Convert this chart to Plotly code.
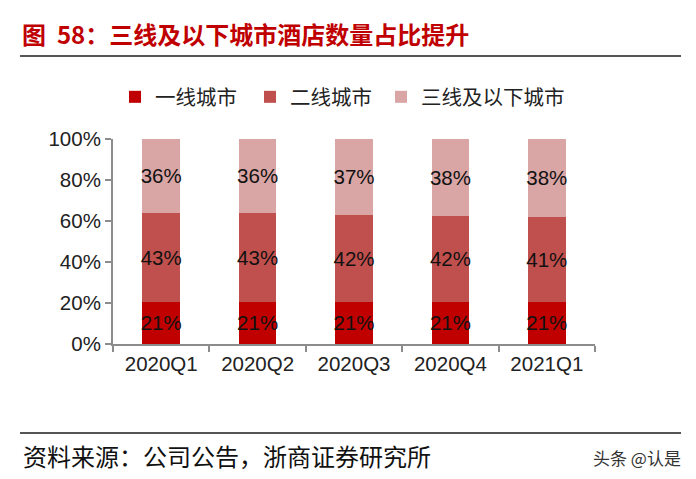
import plotly.graph_objects as go

categories = ["2020Q1", "2020Q2", "2020Q3", "2020Q4", "2021Q1"]
tier1 = [20.6, 20.6, 20.6, 20.6, 20.6]
tier2 = [43.4, 43.4, 42.4, 41.8, 41.4]
tier3 = [36.0, 36.0, 37.0, 37.6, 38.0]
series_names = ["一线城市", "二线城市", "三线及以下城市"]
colors = ["#C00000", "#C0504D", "#D9A5A5"]

L, R, T, B = 113, 101, 139, 135
W, H = 696, 479
PW, PH = W - L - R, H - T - B

def px(x):
    return (x - L) / PW

def py(y):
    return (H - B - y) / PH

legend_ids = ["legend", "legend2", "legend3"]
legend_left = [115, 250, 381]

fig = go.Figure()
for name, vals, col, lid in zip(series_names, [tier1, tier2, tier3], colors, legend_ids):
    fig.add_trace(go.Bar(
        x=categories, y=vals, name=name, marker=dict(color=col, line=dict(width=0)),
        texttemplate="%{y:.0f}%", textposition="inside", textangle=0,
        insidetextanchor="middle", constraintext="none",
        textfont=dict(family="Arial, Liberation Sans", size=20.5, color="#111"),
        width=0.39, legend=lid,
    ))

legend_style = dict(orientation="h", xanchor="left", y=py(97), yanchor="middle",
                    font=dict(family="Noto Sans CJK SC", size=20.5, color="#222"),
                    bgcolor="rgba(0,0,0,0)")
layout_legends = {lid: dict(legend_style, x=px(xl)) for lid, xl in zip(legend_ids, legend_left)}

fig.update_layout(
    barmode="stack",
    width=W, height=H,
    margin=dict(l=L, r=R, t=T, b=B),
    paper_bgcolor="white", plot_bgcolor="white",
    showlegend=True,
    uniformtext=dict(mode=False),
    font=dict(family="Arial, Liberation Sans"),
    **layout_legends,
)
fig.update_xaxes(
    showline=True, linecolor="#8c8c8c", linewidth=2,
    ticks="outside", tickson="boundaries", ticklen=6, tickcolor="#8c8c8c", tickwidth=2,
    tickfont=dict(family="Arial, Liberation Sans", size=20.5, color="#222"),
    showgrid=False,
)
fig.update_yaxes(
    range=[0, 100], showline=True, linecolor="#8c8c8c", linewidth=2,
    ticks="outside", ticklen=6, tickcolor="#8c8c8c", tickwidth=2,
    tickvals=[0, 20, 40, 60, 80, 100], ticktext=["0%", "20%", "40%", "60%", "80%", "100%"],
    tickfont=dict(family="Arial, Liberation Sans", size=20.5, color="#222"),
    showgrid=False, zeroline=False,
)

fig.add_shape(type="line", xref="paper", yref="paper", x0=px(20), x1=px(681), y0=py(56), y1=py(56),
              line=dict(color="#555", width=2))
fig.add_shape(type="line", xref="paper", yref="paper", x0=px(20), x1=px(681), y0=py(433), y1=py(433),
              line=dict(color="#555", width=2))

fig.add_annotation(text="<b>图  58：三线及以下城市酒店数量占比提升</b>", xref="paper", yref="paper",
                   x=px(20), y=py(33), xanchor="left", yanchor="middle", showarrow=False,
                   font=dict(family="Noto Sans CJK SC", size=24, color="#C00000"))
fig.add_annotation(text="资料来源：公司公告，浙商证券研究所", xref="paper", yref="paper",
                   x=px(21), y=py(455), xanchor="left", yanchor="middle", showarrow=False,
                   font=dict(family="Noto Sans CJK SC", size=24, color="#111"))
fig.add_annotation(text="头条 @认是", xref="paper", yref="paper",
                   x=px(683), y=py(457), xanchor="right", yanchor="middle", showarrow=False,
                   font=dict(family="Noto Sans CJK SC", size=17, color="#333"))

fig.write_html("out.html", config={"displayModeBar": False},
               post_script="document.body.style.margin='0px';")
